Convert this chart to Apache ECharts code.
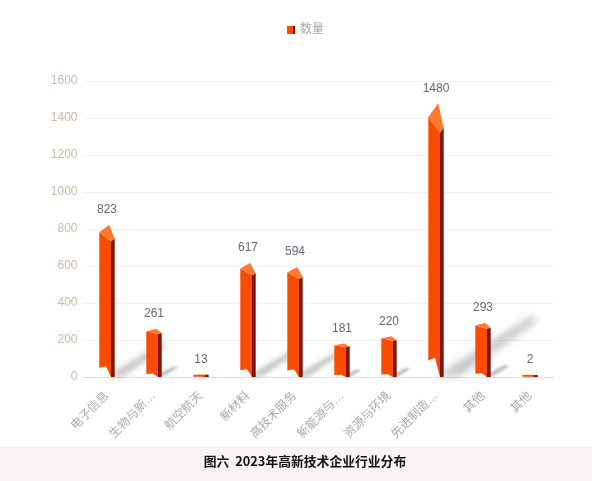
<!DOCTYPE html>
<html><head><meta charset="utf-8">
<style>html,body{margin:0;padding:0;background:#fff}#c{width:592px;height:481px}</style>
<script src="https://cdn.jsdelivr.net/npm/echarts@6/dist/echarts.min.js"></script>
</head><body><div id="c"></div>
<script>
var categories = ['电子信息','生物与新医药','航空航天','新材料','高技术服务','新能源与节能','资源与环境','先进制造与自动化','其他','其他'];
var seriesName = '数量';
var counts = [823,261,13,617,594,181,220,1480,293,2];
var yTicks = {min:0,max:1600,interval:200};
var chartTitle = '图六  2023年高新技术企业行业分布';

var FONT = '"Liberation Sans","Noto Sans CJK SC",sans-serif';
var FRONT='#f94c00', SIDE='#7e1500', TOP='#ff7a30';
var chart = echarts.init(document.getElementById('c'));
var rows = counts.map(function(v,i){return [i,v];});

function shadowItem(params, api){
  var p=api.coord([api.value(0),api.value(1)]), b=api.coord([api.value(0),0]);
  var cx=p[0], y0=b[1], h=y0-p[1], off=3000;
  var w=h*0.05;
  var pts=[[cx+1,y0-1],[cx+8+w,y0-1],[cx+8+h*0.335,y0-h*0.2],[cx+3+h*0.345,y0-h*0.225]];
  return {type:'polygon',silent:true,
    shape:{points:pts.map(function(q){return [q[0]-off,q[1]];})},
    style:{fill:'#000',shadowColor:'rgba(0,0,0,0.26)',shadowBlur:Math.min(8,1+h*0.035),shadowOffsetX:off,shadowOffsetY:0}};
}
function barItem(params, api){
  var p=api.coord([api.value(0),api.value(1)]), b=api.coord([api.value(0),0]);
  var cx=p[0], y0=b[1], h=Math.max(y0-p[1],2.2), yT=y0-h;
  var L=cx-7.7,F=cx+4,R=cx+7.7,PK=cx+2.2;
  return {type:'group',children:[
    {type:'polygon',shape:{points:[[F,yT+h*0.108],[R,yT+h*0.09],[R,y0],[F,y0]]},style:{fill:SIDE}},
    {type:'polygon',shape:{points:[[L,yT+h*0.05],[F,yT+h*0.108],[F,y0],[cx-1,y0-h*0.07],[L,y0-h*0.06]]},style:{fill:FRONT}},
    {type:'polygon',shape:{points:[[L,yT+h*0.05],[PK,yT],[R,yT+h*0.09],[F,yT+h*0.108]]},style:{fill:TOP}},
    {type:'text',style:{text:String(api.value(1)),x:cx,y:yT-15,align:'center',verticalAlign:'middle',
      font:'12px '+FONT,fill:'#667'}}
  ]};
}
chart.setOption({
  animation:false,
  backgroundColor:'#fff',
  title:{text:chartTitle,left:300,top:449,textAlign:'center',textStyle:{fontFamily:'"Noto Sans CJK SC",sans-serif',fontSize:12.8,fontWeight:'bold',color:'#111',lineHeight:14}},
  legend:{top:19,left:282,itemWidth:8,itemHeight:8,itemGap:5,
    data:[{name:seriesName,icon:'rect',itemStyle:{color:{type:'linear',x:0,y:0,x2:1,y2:0,colorStops:[{offset:0,color:FRONT},{offset:0.72,color:FRONT},{offset:0.72,color:SIDE},{offset:1,color:SIDE}]}}}],
    textStyle:{color:'#aaa',fontFamily:FONT,fontSize:12}},
  grid:{left:83.5,right:38.5,top:81,bottom:104,containLabel:false},
  xAxis:{type:'category',data:categories,
    axisLine:{lineStyle:{color:'#ddd'}},axisTick:{show:false},
    axisLabel:{interval:0,rotate:45,color:'#aaa',fontFamily:FONT,fontSize:12,margin:17,width:62,overflow:'truncate',ellipsis:'…'}},
  yAxis:{type:'value',min:yTicks.min,max:yTicks.max,interval:yTicks.interval,
    axisLine:{show:false},axisTick:{show:false},
    axisLabel:{color:'#cdb9a5',fontFamily:FONT,fontSize:12,margin:6,padding:[4,0,0,0],formatter:function(v){return String(v);}},
    splitLine:{lineStyle:{color:'#f2f2f2'}}},
  series:[
    {type:'custom',name:'_shadow',renderItem:shadowItem,data:rows,clip:false,silent:true,z:1,encode:{x:0,y:1}},
    {type:'custom',name:seriesName,renderItem:barItem,data:rows,clip:false,z:2,encode:{x:0,y:1}}
  ],
  graphic:[{type:'rect',z:-1,silent:true,shape:{x:0,y:447,width:592,height:34},style:{fill:'#faf5f4'}}]
});
</script></body></html>
